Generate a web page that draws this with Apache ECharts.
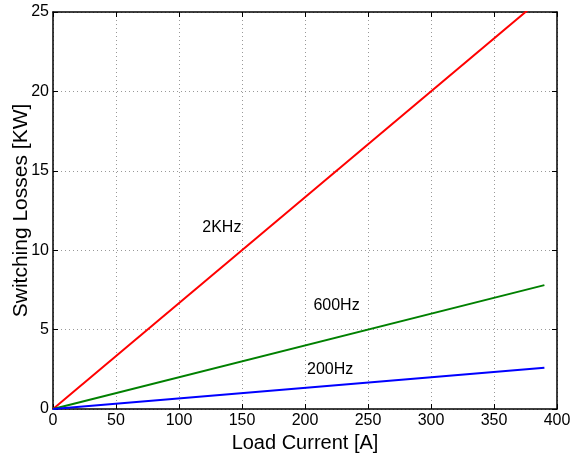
<!DOCTYPE html>
<html>
<head>
<meta charset="utf-8">
<script src="https://cdn.jsdelivr.net/npm/echarts@6/dist/echarts.min.js"></script>
<style>
  html, body { margin: 0; padding: 0; background: #fff; }
  #chart { width: 579px; height: 453px; }
</style>
</head>
<body>
<div id="chart"></div>
<script>
// load current [A] at the line end points
const current = [0, 390];
// switching losses [KW]
const loss2k = [0, 26];
const loss600 = [0, 7.8];
const loss200 = [0, 2.6];
// text labels placed on the plot
const labels = [
  { name: '2KHz', value: [134, 11.4] },
  { name: '600Hz', value: [225, 6.5] },
  { name: '200Hz', value: [220, 2.5] }
];

const pairs = (xs, ys) => xs.map((x, i) => [x, ys[i]]);
const font = 'Liberation Sans, Arial, sans-serif';

const myChart = echarts.init(document.getElementById('chart'));

const axisCommon = {
  axisLine: { show: true, onZero: false, lineStyle: { color: '#000', width: 1.5 } },
  axisTick: { show: true, inside: true, length: 5, lineStyle: { color: '#000', width: 1 } }
};

const option = {
  animation: false,
  grid: { left: 53, right: 22, top: 12, bottom: 44, outerBoundsMode: 'none', containLabel: false },
  xAxis: [
    {
      type: 'value', min: 0, max: 400, interval: 50,
      name: 'Load Current [A]', nameLocation: 'middle', nameGap: 22,
      nameTextStyle: { fontFamily: font, fontSize: 20, color: '#000' },
      axisLabel: { fontFamily: font, fontSize: 16, color: '#000', margin: 4 },
      splitLine: { show: true, lineStyle: { color: '#999', type: [1, 3] } },
      ...axisCommon
    },
    {
      type: 'value', min: 0, max: 400, interval: 50, position: 'top',
      axisLabel: { show: false }, splitLine: { show: false },
      ...axisCommon
    }
  ],
  yAxis: [
    {
      type: 'value', min: 0, max: 25, interval: 5,
      name: 'Switching Losses [KW]', nameLocation: 'middle', nameGap: 21, nameMoveOverlap: false,
      nameTextStyle: { fontFamily: font, fontSize: 21, color: '#000' },
      axisLabel: { fontFamily: font, fontSize: 16, color: '#000', margin: 4 },
      splitLine: { show: true, lineStyle: { color: '#999', type: [1, 3] } },
      ...axisCommon
    },
    {
      type: 'value', min: 0, max: 25, interval: 5, position: 'right',
      axisLabel: { show: false }, splitLine: { show: false },
      ...axisCommon
    }
  ],
  series: [
    {
      type: 'line', data: pairs(current, loss2k), symbol: 'none', clip: true,
      lineStyle: { color: '#ff0000', width: 2 }
    },
    {
      type: 'line', data: pairs(current, loss600), symbol: 'none',
      lineStyle: { color: '#008000', width: 2 }
    },
    {
      type: 'line', data: pairs(current, loss200), symbol: 'none',
      lineStyle: { color: '#0000ff', width: 2 }
    },
    {
      type: 'scatter', symbolSize: 0, data: labels, silent: true,
      itemStyle: { opacity: 1 },
      label: {
        show: true, position: 'inside', formatter: p => p.name, opacity: 1,
        fontFamily: font, fontSize: 16, color: '#000', textBorderWidth: 0
      }
    }
  ]
};

option && myChart.setOption(option);
</script>
</body>
</html>
